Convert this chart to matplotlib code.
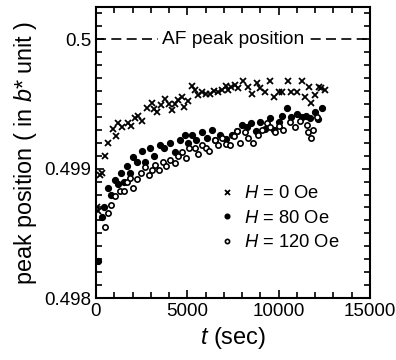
import matplotlib
matplotlib.use("Agg")
import matplotlib.pyplot as plt
from matplotlib.ticker import MultipleLocator

plt.rcParams["font.family"] = ["Liberation Sans", "DejaVu Sans"]
plt.rcParams["mathtext.fontset"] = "custom"
plt.rcParams["mathtext.rm"] = "Liberation Sans"
plt.rcParams["mathtext.it"] = "Liberation Sans:italic"

# H = 0 Oe (crosses)
t_h0 = [30, 110, 220, 330, 490, 660, 930, 1100, 1200, 1450, 1750, 1900, 2130, 2300, 2500,
        2800, 3060, 3200, 3340, 3550, 3780, 4000, 4160, 4330, 4500, 4710, 4820, 5050,
        5260, 5400, 5600, 5800, 6000, 6240, 6450, 6680, 6900, 7100, 7230, 7400, 7600,
        7800, 8050, 8300, 8540, 8810, 9000, 9250, 9520, 9750, 10000, 10200, 10500,
        10700, 11000, 11270, 11450, 11650, 11800, 12000, 12200, 12350, 12530]
p_h0 = [0.49870, 0.49867, 0.49895, 0.49897, 0.49910, 0.49920, 0.49931, 0.49925, 0.49935,
        0.49932, 0.49935, 0.49933, 0.49939, 0.49941, 0.49937, 0.49947, 0.49951,
        0.49946, 0.49944, 0.49949, 0.49954, 0.49950, 0.49945, 0.49950, 0.49953,
        0.49955, 0.49948, 0.49952, 0.49964, 0.49961, 0.49957, 0.49959, 0.49958,
        0.49958, 0.49960, 0.49959, 0.49961, 0.49964, 0.49961, 0.49963, 0.49965,
        0.49962, 0.49968, 0.49963, 0.49958, 0.49966, 0.49962, 0.49959, 0.49968,
        0.49955, 0.49959, 0.49959, 0.49968, 0.49959, 0.49959, 0.49968, 0.49955,
        0.49963, 0.49951, 0.49957, 0.49963, 0.49962, 0.49961]

# H = 80 Oe (filled circles)
t_h80 = [100, 330, 450, 660, 820, 1040, 1200, 1370, 1550, 1700, 1850, 2020, 2250, 2520,
         2700, 2960, 3200, 3500, 3750, 4050, 4300, 4600, 4870, 5050, 5260, 5500, 5800,
         6100, 6350, 6500, 6800, 7100, 7440, 7700, 7990, 8250, 8500, 8750, 8980, 9250,
         9520, 9750, 10000, 10180, 10460, 10700, 11000, 11270, 11500, 11700, 12000,
         12150, 12370]
p_h80 = [0.49829, 0.49863, 0.49870, 0.49885, 0.49880, 0.49891, 0.49888, 0.49897,
         0.49890, 0.49902, 0.49897, 0.49909, 0.49905, 0.49914, 0.49905, 0.49916,
         0.49910, 0.49918, 0.49916, 0.49920, 0.49913, 0.49922, 0.49926, 0.49920,
         0.49926, 0.49922, 0.49928, 0.49924, 0.49930, 0.49922, 0.49926, 0.49923,
         0.49926, 0.49929, 0.49934, 0.49932, 0.49935, 0.49929, 0.49936, 0.49931,
         0.49939, 0.49930, 0.49936, 0.49941, 0.49947, 0.49940, 0.49942, 0.49940,
         0.49941, 0.49939, 0.49944, 0.49938, 0.49947]

# H = 120 Oe (open circles)
t_h120 = [490, 660, 820, 1040, 1310, 1530, 1700, 1860, 2050, 2250, 2450, 2680, 2900,
          3050, 3230, 3450, 3650, 3850, 4050, 4300, 4500, 4710, 4950, 5100, 5420, 5600,
          5800, 6000, 6200, 6510, 6700, 6900, 7100, 7340, 7550, 7700, 7900, 8160, 8350,
          8600, 8850, 9090, 9360, 9550, 9800, 10000, 10250, 10600, 10900, 11200, 11550,
          11600, 11750, 11900, 12100]
p_h120 = [0.49855, 0.49866, 0.49872, 0.49879, 0.49883, 0.49883, 0.49890, 0.49893,
          0.49885, 0.49892, 0.49897, 0.49901, 0.49895, 0.49899, 0.49903, 0.49899,
          0.49905, 0.49902, 0.49907, 0.49904, 0.49910, 0.49913, 0.49908, 0.49916,
          0.49916, 0.49911, 0.49918, 0.49916, 0.49914, 0.49922, 0.49918, 0.49924,
          0.49919, 0.49918, 0.49925, 0.49929, 0.49920, 0.49928, 0.49924, 0.49920,
          0.49926, 0.49930, 0.49935, 0.49932, 0.49928, 0.49933, 0.49930, 0.49936,
          0.49932, 0.49937, 0.49934, 0.49928, 0.49924, 0.49930, 0.49940]

af_peak = 0.5

fig = plt.figure(figsize=(3.96, 3.6), dpi=100)
ax = fig.add_axes([0.2424, 0.172, 0.6916, 0.809])

ax.plot(t_h0, p_h0, ls="none", marker="x", ms=4.5, mew=1.3, color="black", label="$H$ = 0 Oe")
ax.plot(t_h80, p_h80, ls="none", marker="o", ms=4.2, color="black", label="$H$ = 80 Oe")
ax.plot(t_h120, p_h120, ls="none", marker="o", ms=3.8, mew=1.2, mfc="white", color="black",
        label="$H$ = 120 Oe")

ax.axhline(af_peak, color="black", lw=1.2, dashes=(6, 3.2))
ax.text(7500, af_peak, "AF peak position", ha="center", va="center", fontsize=13.8,
        bbox=dict(facecolor="white", edgecolor="none", pad=3))

ax.set_xlim(0, 15000)
ax.set_ylim(0.498, 0.50025)
ax.xaxis.set_major_locator(MultipleLocator(5000))
ax.xaxis.set_minor_locator(MultipleLocator(1000))
ax.yaxis.set_major_locator(MultipleLocator(0.001))
ax.yaxis.set_minor_locator(MultipleLocator(0.0001))
ax.yaxis.set_major_formatter(plt.FuncFormatter(lambda v, p: f"{v:.3f}".rstrip("0")))
ax.tick_params(which="both", direction="in", top=True, right=True, labelsize=13.5, width=1.2)
ax.tick_params(which="major", length=6)
ax.tick_params(which="minor", length=4)
for s in ax.spines.values():
    s.set_linewidth(1.5)

ax.set_xlabel("$t$ (sec)", fontsize=17, labelpad=4)
ax.set_ylabel("peak position ( in $b$* unit )", fontsize=16.8, labelpad=4)

ax.legend(loc="upper left", bbox_to_anchor=(0.42, 0.42), frameon=False, fontsize=13.2,
          markerscale=0.8, handlelength=0.7, handletextpad=0.6, labelspacing=0.42,
          borderpad=0)

fig.savefig("out.png", dpi=100)
